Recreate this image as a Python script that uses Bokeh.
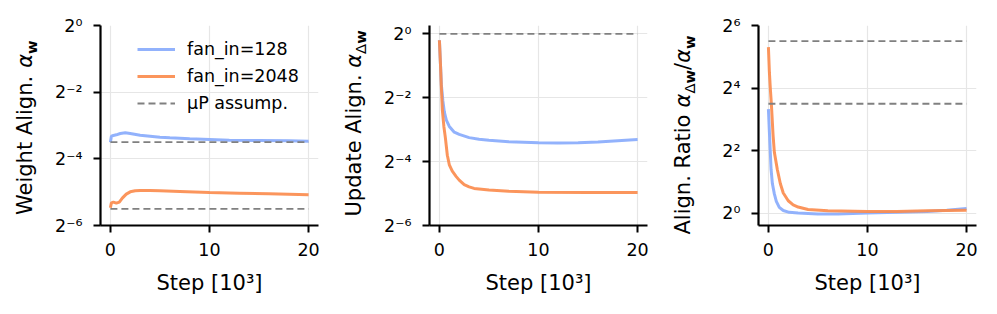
import math
import numpy as np
from bokeh.plotting import figure
from bokeh.layouts import row
from bokeh.models import (Range1d, FixedTicker, CustomJSTickFormatter, Label,
                          Legend, LegendItem)
from bokeh.embed import file_html
from bokeh.resources import INLINE

FONT = "DejaVu Sans"
BLUE = "#8caefc"
ORANGE = "#fb8c4e"
GREY = "#808080"

# ---------------- data (steps in thousands, values as log2 exponents) -------
fan_in = [128, 2048]
step_span = [0, 20]

# weight alignment
w128_steps = [0, 0.1, 0.3, 0.6, 1.0, 1.5, 2.0, 3.0, 4.0, 5.0, 6.0, 8.0, 10, 12, 15, 18, 20]
w128_log2 = [-3.50, -3.32, -3.30, -3.28, -3.24, -3.22, -3.24, -3.29, -3.32, -3.35,
             -3.37, -3.40, -3.42, -3.44, -3.45, -3.46, -3.47]
w2048_steps = [0, 0.1, 0.3, 0.6, 0.9, 1.2, 1.6, 2.0, 2.5, 3.0, 4.0, 5.0, 7.0, 10, 13, 16, 20]
w2048_log2 = [-5.47, -5.32, -5.30, -5.33, -5.30, -5.18, -5.06, -4.99, -4.96, -4.95,
              -4.95, -4.96, -4.98, -5.01, -5.03, -5.05, -5.08]

# update alignment
u128_steps = [0, 0.1, 0.2, 0.35, 0.5, 0.7, 1.0, 1.5, 2.0, 3.0, 4.0, 5.0, 7.0, 10, 12, 14, 16, 18, 20]
u128_log2 = [-0.20, -0.9, -1.6, -2.1, -2.45, -2.7, -2.9, -3.08, -3.15, -3.25, -3.30,
             -3.33, -3.38, -3.41, -3.42, -3.41, -3.39, -3.35, -3.31]
u2048_steps = [0, 0.1, 0.2, 0.3, 0.45, 0.6, 0.8, 1.0, 1.3, 1.7, 2.0, 2.5, 3.0, 3.5, 5.0, 7.0, 10, 15, 20]
u2048_log2 = [-0.20, -0.9, -1.7, -2.4, -2.9, -3.25, -3.8, -4.1, -4.3, -4.47, -4.58,
              -4.72, -4.79, -4.84, -4.89, -4.93, -4.96, -4.97, -4.97]

# alignment ratio
r128_steps = [0, 0.1, 0.17, 0.27, 0.4, 0.6, 0.8, 1.1, 1.5, 2.1, 3.0, 5.0, 7.0, 10, 13, 16, 18, 20]
r128_log2 = [3.33, 2.6, 2.1, 1.4, 0.95, 0.62, 0.38, 0.19, 0.09, 0.03, 0.01, -0.02,
             -0.02, 0.01, 0.03, 0.06, 0.10, 0.15]
r2048_steps = [0, 0.1, 0.2, 0.3, 0.47, 0.6, 0.9, 1.2, 1.5, 2.0, 2.5, 3.0, 4.0, 6.0, 10, 13, 16, 20]
r2048_log2 = [5.31, 4.5, 3.95, 3.49, 2.5, 1.95, 1.4, 0.95, 0.65, 0.40, 0.27, 0.20,
              0.12, 0.08, 0.06, 0.06, 0.08, 0.10]

# muP assumption levels
mup_weight = [0.0884, 0.0221]   # 1/sqrt(fan_in)
mup_update = [1.0]
mup_ratio = [11.31, 45.25]      # sqrt(fan_in)

x_ticks = [0, 10, 20]

CHAR_W = {' ': 0.318, '.': 0.318, '/': 0.337, 'A': 0.684, 'R': 0.695, 'U': 0.732,
          'W': 0.989, 'a': 0.613, 'd': 0.635, 'e': 0.615, 'g': 0.635, 'h': 0.634,
          'i': 0.278, 'l': 0.278, 'n': 0.634, 'o': 0.612, 'p': 0.635, 't': 0.392,
          'α': 0.659, 'w': 0.818, 'Δ': 0.684}
CHAR_W_BOLD = {'w': 0.924, 'Δ': 0.774}

SUP_CODE = """
const sup = {'0':'\u2070','1':'\u00b9','2':'\u00b2','3':'\u00b3','4':'\u2074',
             '5':'\u2075','6':'\u2076','7':'\u2077','8':'\u2078','9':'\u2079','-':'\u207b'};
const e = Math.round(Math.log2(tick));
return '2' + String(e).split('').map(c => sup[c]).join('');
"""

FIG_H = 306          # 25 top + 200 frame + 81 bottom
LBL_W = 45           # width of the strip holding each y label
BASE_FIX = 0.38      # anchor correction (in em) for rotated labels
FLOW_FIX = 24        # anchor correction (px) along the text direction


def text_width(text, style, size):
    tot = 0.0
    for c in text:
        if style == "bold" and c in CHAR_W_BOLD:
            tot += CHAR_W_BOLD[c]
        else:
            tot += CHAR_W.get(c, 0.6)
    return tot * size


def make_fig(ylo, yhi, yticks, left, right):
    p = figure(frame_width=218, frame_height=200, min_border_left=left,
               min_border_right=right, min_border_top=25, min_border_bottom=81,
               x_range=Range1d(-1, 21), y_range=Range1d(ylo, yhi),
               y_axis_type="log", output_backend="svg", toolbar_location=None)
    p.outline_line_color = None
    p.background_fill_color = "white"
    p.border_fill_color = "white"
    for ax in (p.xaxis[0], p.yaxis[0]):
        ax.axis_line_width = 2.2
        ax.axis_line_color = "black"
        ax.major_tick_line_width = 2
        ax.major_tick_line_color = "black"
        ax.major_tick_out = 7
        ax.major_tick_in = 0
        ax.minor_tick_line_color = None
        ax.major_label_text_font = FONT
        ax.major_label_text_font_size = "17.5px"
        ax.major_label_text_color = "black"
    p.xaxis.major_label_standoff = 10
    p.yaxis.major_label_standoff = 11
    p.xaxis.ticker = FixedTicker(ticks=x_ticks)
    p.yaxis.ticker = FixedTicker(ticks=yticks)
    p.yaxis.formatter = CustomJSTickFormatter(code=SUP_CODE)
    p.xaxis.axis_label = "Step [10³]"
    p.xaxis.axis_label_text_font = FONT
    p.xaxis.axis_label_text_font_size = "21px"
    p.xaxis.axis_label_text_font_style = "normal"
    p.xaxis.axis_label_text_color = "black"
    p.xaxis.axis_label_standoff = 12
    p.grid.grid_line_color = "#e6e6e6"
    p.grid.grid_line_width = 1.2
    return p


def label_strip(pieces, base_x, start_y):
    """Narrow figure that carries a rotated, multi-style y label."""
    s = figure(title=None, frame_width=LBL_W, frame_height=FIG_H, min_border=0,
               x_range=Range1d(0, LBL_W), y_range=Range1d(0, FIG_H),
               x_axis_location=None, y_axis_location=None,
               output_backend="svg", toolbar_location=None)
    s.outline_line_color = None
    s.grid.visible = False
    s.background_fill_color = "white"
    s.border_fill_color = "white"
    y = start_y + FLOW_FIX
    for text, style, size, shift in pieces:
        s.add_layout(Label(x=base_x + shift - BASE_FIX * size, y=y, text=text,
                           angle=math.pi / 2, text_font=FONT,
                           text_font_size=f"{size}px", text_font_style=style,
                           text_align="left", text_baseline="alphabetic",
                           text_color="black"))
        y += text_width(text, style, size)
    return s


def curves(p, s1, v1, s2, v2):
    r1 = p.line(s1, 2.0 ** np.asarray(v1), line_color=BLUE, line_width=3, line_alpha=0.95)
    r2 = p.line(s2, 2.0 ** np.asarray(v2), line_color=ORANGE, line_width=3, line_alpha=0.92)
    return r1, r2


def hlines(p, levels):
    rs = []
    for v in levels:
        rs.append(p.line(step_span, [v, v], line_color=GREY, line_width=1.8,
                         line_dash="7 4"))
    return rs


LS, SS, SUB = 21, 14.7, 5

# ---- panel 1 ----
l1 = label_strip([("Weight Align. ", "normal", LS, 0), ("α", "italic", LS, 0),
                  ("w", "bold", SS, SUB)], 32, FIG_H - 213.5)
p1 = make_fig(2 ** -6, 2 ** 0, [2 ** -6, 2 ** -4, 2 ** -2, 1], 55, 12)
b1, o1 = curves(p1, w128_steps, w128_log2, w2048_steps, w2048_log2)
d1 = hlines(p1, mup_weight)
legend = Legend(items=[LegendItem(label="fan_in=128", renderers=[b1]),
                       LegendItem(label="fan_in=2048", renderers=[o1]),
                       LegendItem(label="μP assump.", renderers=[d1[0]])],
                location=(37, 112), glyph_width=38, glyph_height=20, label_height=20,
                label_standoff=12, spacing=7, padding=0, margin=0,
                border_line_color=None, background_fill_alpha=0,
                label_text_font=FONT, label_text_font_size="17.5px",
                label_text_color="black")
p1.add_layout(legend)

# ---- panel 2 ----
l2 = label_strip([("Update Align. ", "normal", LS, 0), ("α", "italic", LS, 0),
                  ("Δ", "normal", SS, SUB), ("w", "bold", SS, SUB)], 31, FIG_H - 215)
p2 = make_fig(2 ** -6, 2 ** 0.26, [2 ** -6, 2 ** -4, 2 ** -2, 1], 54, 13)
curves(p2, u128_steps, u128_log2, u2048_steps, u2048_log2)
hlines(p2, mup_update)

# ---- panel 3 ----
l3 = label_strip([("Align. Ratio ", "normal", LS, 0), ("α", "italic", LS, 0),
                  ("Δ", "normal", SS, SUB), ("w", "bold", SS, SUB),
                  ("/", "normal", LS, 0), ("α", "italic", LS, 0),
                  ("w", "bold", SS, SUB)], 30, FIG_H - 233)
p3 = make_fig(2 ** -0.39, 2 ** 6, [1, 4, 16, 64], 53, 12)
curves(p3, r128_steps, r128_log2, r2048_steps, r2048_log2)
hlines(p3, mup_ratio)

layout = row(l1, p1, l2, p2, l3, p3)
open("out.html", "w").write(file_html(layout, INLINE))
